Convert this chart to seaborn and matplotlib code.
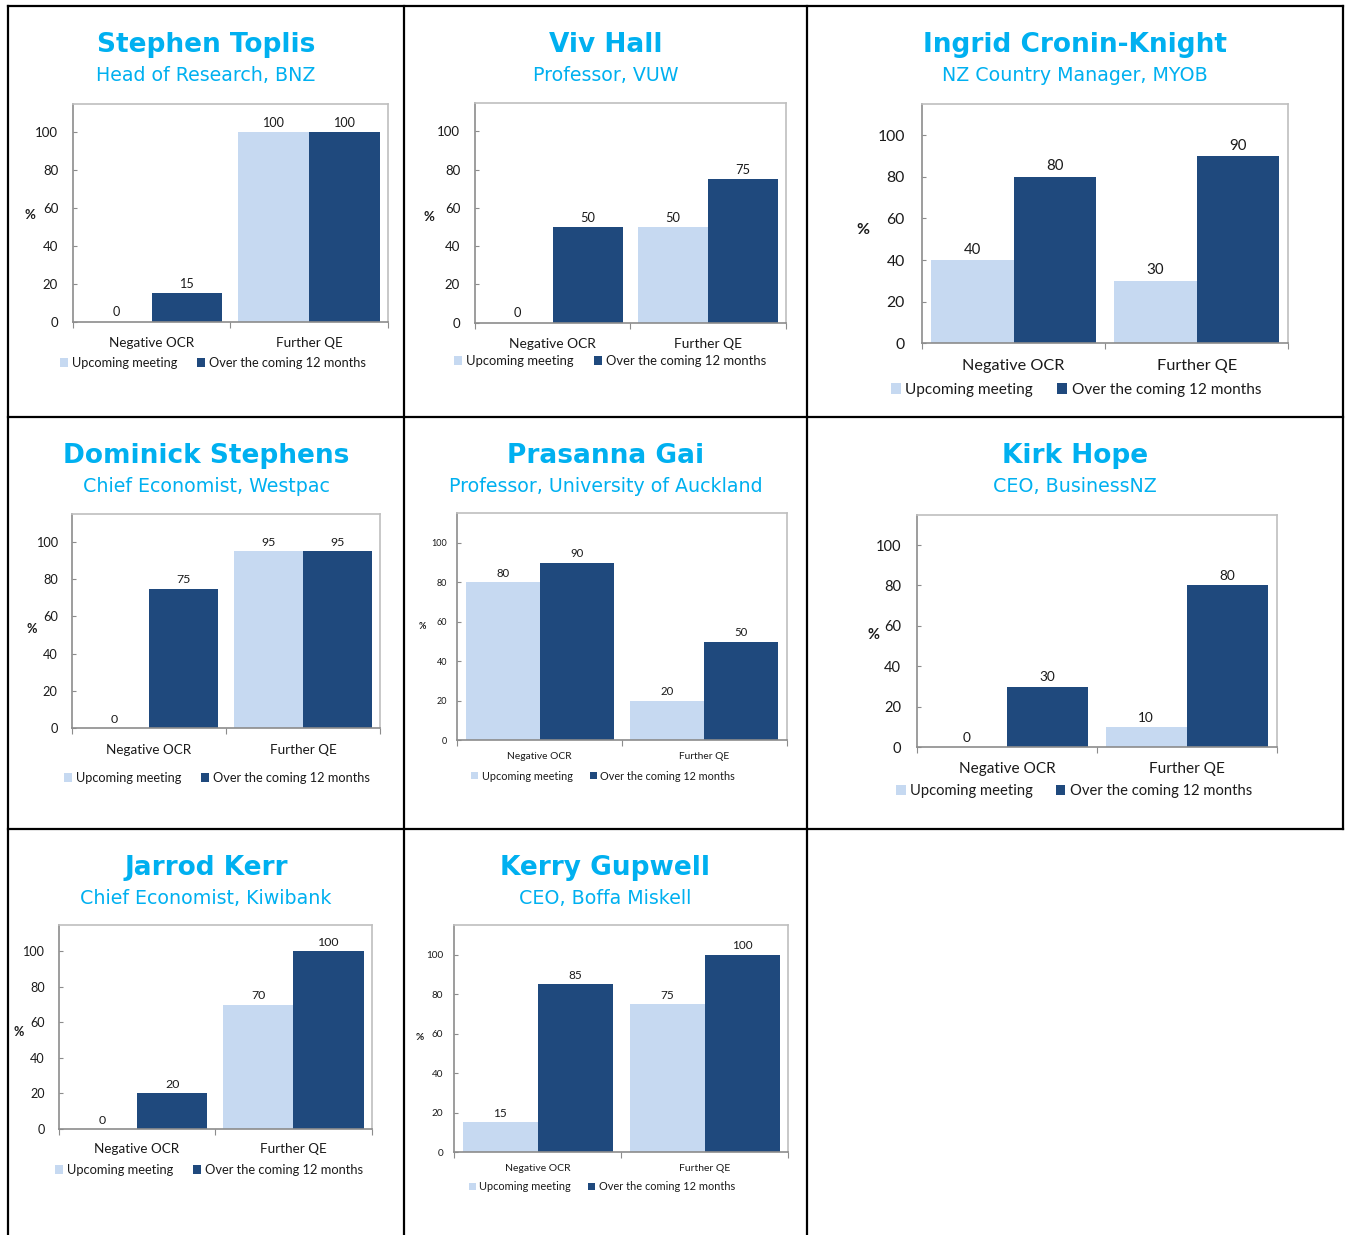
import matplotlib
matplotlib.use("Agg")
import matplotlib.pyplot as plt
from matplotlib.lines import Line2D
import pandas as pd
import seaborn as sns

# Survey answers (% of respondents) per economist
categories = ["Negative OCR", "Further QE"]
series_names = ["Upcoming meeting", "Over the coming 12 months"]
names = ["Stephen Toplis", "Viv Hall", "Ingrid Cronin-Knight",
         "Dominick Stephens", "Prasanna Gai", "Kirk Hope",
         "Jarrod Kerr", "Kerry Gupwell"]
roles = ["Head of Research, BNZ", "Professor, VUW", "NZ Country Manager, MYOB",
         "Chief Economist, Westpac", "Professor, University of Auckland",
         "CEO, BusinessNZ", "Chief Economist, Kiwibank", "CEO, Boffa Miskell"]
upcoming = [[0, 100], [0, 50], [40, 30], [0, 95], [80, 20], [0, 10], [0, 70], [15, 75]]
over_12m = [[15, 100], [50, 75], [80, 90], [75, 95], [90, 50], [30, 80], [20, 100], [85, 100]]
yticks = [0, 20, 40, 60, 80, 100]

LIGHT = "#C6D9F1"
DARK = "#1F497D"
TITLE_BLUE = "#00B0F0"
TEXT = "#1a1a1a"

W, H = 1345, 1235

# layout in pixels of the output image (left, top, right, bottom)
axes_px = [(72.7, 103.7, 388, 321.7), (474.7, 102.7, 786, 322.7),
           (922, 104, 1288.4, 343.3), (71.7, 514, 380, 728.3),
           (457.3, 513.3, 786.7, 740.3), (917, 514.7, 1276.7, 747.3),
           (58.7, 924.7, 371.7, 1129), (454.3, 925.3, 788.3, 1152)]
title_x = [206, 605.5, 1075, 206, 605.5, 1075, 206, 605.5]
title_base = [52.5, 462.7, 874.7]
sub_base = [81, 491.7, 904]
pct_xy = [(30, 215), (429, 216.5), (862.5, 230), (31.7, 628.7),
          (422, 626.7), (874, 635.3), (19, 1032), (420, 1038)]
legend_xy = [(213, 363), (610, 361), (1076, 390), (217, 778),
             (603, 776), (1074, 791), (209, 1170), (602, 1187)]
cat_off = [20.3, 20.3, 21.7, 20.7, 15.7, 20.7, 19, 16]

tick_pt = [9.5, 9.5, 11.3, 9.2, 6.5, 10.5, 9.1, 7.2]
val_pt = [9.1, 9.3, 10.8, 8.9, 8.2, 9.8, 8.9, 8.5]
cat_pt = [9.7, 9.9, 11.7, 9.7, 7.4, 11.1, 9.7, 7.5]
leg_pt = [9.2, 9.4, 11.1, 9.2, 7.8, 10.6, 9.3, 7.9]


def fx(x):
    return x / W


def fy(y):
    return 1 - y / H


sns.set_theme(style="white")
plt.rcParams["font.family"] = ["Lato", "DejaVu Sans"]

fig = plt.figure(figsize=(W / 100, H / 100), dpi=100)
fig.patch.set_facecolor("white")

for i in range(len(names)):
    row = i // 3
    df = pd.DataFrame({
        "Measure": categories * 2,
        "Horizon": [series_names[0]] * 2 + [series_names[1]] * 2,
        "Percent": upcoming[i] + over_12m[i],
    })
    l, t, r, b = axes_px[i]
    ax = fig.add_axes([fx(l), fy(b), (r - l) / W, (b - t) / H])
    sns.barplot(data=df, x="Measure", y="Percent", hue="Horizon",
                order=categories, hue_order=series_names,
                palette=[LIGHT, DARK], width=0.9, gap=0, linewidth=0,
                saturation=1, errorbar=None, ax=ax)

    ax.set_xlim(-0.5, 1.5)
    ax.set_ylim(0, 115)
    ax.set_yticks(yticks)
    ax.tick_params(axis="y", direction="in", length=3, width=0.8,
                   color="#8c8c8c", labelsize=tick_pt[i], labelcolor=TEXT,
                   pad=1.1 * tick_pt[i], left=True)

    # category boundaries as major ticks, names as minor ticks
    ax.set_xticks([-0.5, 0.5, 1.5])
    ax.set_xticklabels(["", "", ""])
    ax.set_xticks([0, 1], minor=True)
    ax.set_xticklabels(categories, minor=True)
    ax.tick_params(axis="x", which="major", direction="out", length=4,
                   width=0.8, color="#8c8c8c", bottom=True)
    ax.tick_params(axis="x", which="minor", length=0, labelsize=cat_pt[i],
                   labelcolor=TEXT, pad=cat_off[i] / 1.389 - 0.36 * cat_pt[i])

    for side in ["top", "right"]:
        ax.spines[side].set_color("#bfbfbf")
        ax.spines[side].set_linewidth(1.2)
    for side in ["left", "bottom"]:
        ax.spines[side].set_color("#8c8c8c")
        ax.spines[side].set_linewidth(1.2)

    ax.set_xlabel("")
    ax.set_ylabel("%", rotation=0, fontweight="bold", fontsize=tick_pt[i],
                  color=TEXT, ha="center", va="center")
    ax.yaxis.set_label_coords(fx(pct_xy[i][0]), fy(pct_xy[i][1]),
                              transform=fig.transFigure)

    for cont in ax.containers:
        ax.bar_label(cont, fmt="%g", padding=2.5, fontsize=val_pt[i], color=TEXT)

    handles, labels = ax.get_legend_handles_labels()
    ax.legend(handles, labels, loc="center",
              bbox_to_anchor=(fx(legend_xy[i][0]), fy(legend_xy[i][1])),
              bbox_transform=fig.transFigure, ncol=2, frameon=False,
              fontsize=leg_pt[i], handlelength=0.65, handleheight=0.65,
              handletextpad=0.3, columnspacing=1.55, borderpad=0,
              borderaxespad=0, labelcolor=TEXT)

    fig.text(fx(title_x[i]), fy(title_base[row]), names[i], ha="center",
             va="baseline", fontsize=19, fontweight="bold", color=TITLE_BLUE,
             family="DejaVu Sans")
    fig.text(fx(title_x[i]), fy(sub_base[row]), roles[i], ha="center",
             va="baseline", fontsize=13.7, color=TITLE_BLUE,
             family="DejaVu Sans")

# table borders
borders = [((8, 6), (8, 1235)), ((404, 6), (404, 1235)), ((807, 6), (807, 1235)),
           ((1343, 6), (1343, 829)), ((8, 6), (1343, 6)), ((8, 417), (1343, 417)),
           ((8, 829), (1343, 829))]
for (x0, y0), (x1, y1) in borders:
    fig.add_artist(Line2D([fx(x0), fx(x1)], [fy(y0), fy(y1)],
                          transform=fig.transFigure, color="black", lw=1.6,
                          solid_capstyle="projecting"))

fig.savefig("out.png", dpi=100)
